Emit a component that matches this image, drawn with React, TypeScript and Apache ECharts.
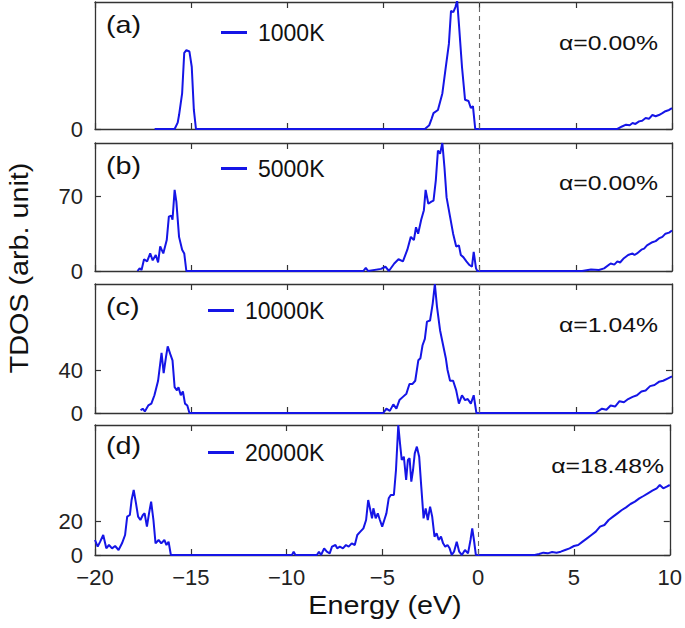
import React, { useEffect, useRef } from "react";
import * as echarts from "echarts";

const FONT = "'Liberation Sans', Arial, Helvetica, sans-serif";
const LINE_COLOR = "#1515e6";

const temperatures = ["1000K", "5000K", "10000K", "20000K"];
const panelLabels = ["(a)", "(b)", "(c)", "(d)"];
const alphaLabels = ["α=0.00%", "α=0.00%", "α=1.04%", "α=18.48%"];
const yMax = [100, 120, 120, 78];
const yTickValues = [[0], [0, 70], [0, 40], [0, 20]];

const tdos1000K: [number, number][] = [
  [-16.9, 0], [-15.86, 0], [-15.7, 5], [-15.63, 11], [-15.47, 28], [-15.36, 60], [-15.25, 62], [-15.09, 61],
  [-14.97, 49], [-14.86, 15], [-14.75, 0],
  [-2.85, 0], [-2.62, 3], [-2.5, 8], [-2.4, 12.5], [-2.17, 15], [-1.94, 28], [-1.76, 49], [-1.6, 67],
  [-1.49, 93], [-1.37, 92], [-1.26, 96], [-1.17, 101], [-1.08, 83], [-0.92, 49], [-0.76, 23], [-0.58, 22],
  [-0.46, 16.5], [-0.35, 18], [-0.23, 0],
  [7.16, 0], [7.4, 2], [7.61, 3.4], [7.8, 3], [7.95, 4.7], [8.1, 4], [8.29, 6], [8.45, 6.5], [8.63, 8.6],
  [8.8, 8], [8.98, 11], [9.15, 10], [9.32, 11], [9.5, 12.5], [9.66, 14], [9.85, 15], [10, 16.5],
];

const tdos5000K: [number, number][] = [
  [-17.79, 0], [-17.68, 2.5], [-17.58, 1], [-17.45, 11], [-17.29, 9], [-17.13, 16.5], [-17.0, 10], [-16.84, 15],
  [-16.72, 8], [-16.61, 23], [-16.45, 16.5], [-16.27, 29], [-16.16, 51], [-16.04, 52], [-15.97, 48],
  [-15.86, 76], [-15.77, 65], [-15.63, 32], [-15.47, 20], [-15.36, 16.5], [-15.25, 0],
  [-6.05, 0], [-5.92, 3], [-5.8, 0], [-5.13, 2], [-4.9, 4], [-4.72, 0], [-4.44, 7], [-4.22, 11], [-3.99, 9],
  [-3.76, 20], [-3.58, 32], [-3.42, 29], [-3.31, 41], [-3.2, 35], [-3.04, 48], [-2.9, 57], [-2.81, 76],
  [-2.67, 63], [-2.51, 65], [-2.4, 66], [-2.28, 85], [-2.17, 113], [-2.06, 110], [-1.94, 120], [-1.83, 97],
  [-1.72, 69], [-1.54, 51], [-1.38, 35], [-1.22, 23], [-1.08, 24], [-0.98, 15], [-0.85, 13], [-0.69, 9],
  [-0.53, 5.6], [-0.4, 4], [-0.31, 18], [-0.19, 2.5], [-0.12, 0],
  [5.33, 0], [5.79, 1.5], [6.2, 1], [6.47, 2.5], [6.81, 7], [7.0, 6], [7.16, 9], [7.3, 8], [7.5, 12],
  [7.72, 15], [7.95, 16.5], [8.05, 15], [8.18, 16.5], [8.41, 20], [8.55, 21], [8.7, 24], [8.98, 27],
  [9.15, 28], [9.32, 30.5], [9.5, 32], [9.66, 35], [9.85, 36], [10, 38],
];

const tdos10000K: [number, number][] = [
  [-17.63, 2.5], [-17.52, 4], [-17.41, 1.5], [-17.23, 7], [-17.07, 8.7], [-16.91, 16.5], [-16.72, 30],
  [-16.54, 56], [-16.43, 37], [-16.31, 52], [-16.22, 62], [-16.09, 55], [-15.97, 49], [-15.86, 24],
  [-15.74, 21], [-15.66, 24], [-15.54, 16.5], [-15.43, 20], [-15.32, 8.7], [-15.2, 7], [-15.09, 0],
  [-5.01, 0], [-4.85, 4], [-4.67, 2], [-4.49, 8], [-4.33, 4], [-4.17, 12], [-3.99, 15], [-3.81, 18],
  [-3.65, 27], [-3.49, 27], [-3.35, 30], [-3.19, 49], [-3.08, 51], [-2.97, 63], [-2.85, 69], [-2.74, 85],
  [-2.58, 86], [-2.44, 102], [-2.33, 120], [-2.22, 99], [-2.06, 77], [-1.9, 63], [-1.76, 51], [-1.67, 40],
  [-1.54, 30], [-1.38, 30], [-1.22, 21], [-1.08, 8.7], [-0.92, 16.5], [-0.76, 12], [-0.62, 13], [-0.46, 8.7],
  [-0.31, 16.5], [-0.17, 0],
  [6.02, 0], [6.36, 4], [6.59, 3], [6.81, 7], [7.04, 6], [7.27, 11], [7.5, 10], [7.72, 13], [7.95, 15],
  [8.18, 16.5], [8.41, 20], [8.63, 21], [8.86, 25], [9.09, 26], [9.32, 29], [9.54, 30], [9.77, 32], [10, 34],
];

const tdos20000K: [number, number][] = [
  [-20, 9], [-19.86, 5], [-19.73, 8], [-19.57, 12], [-19.41, 4], [-19.27, 6], [-19.11, 4], [-18.95, 5.4],
  [-18.77, 3], [-18.59, 7], [-18.43, 12], [-18.32, 23], [-18.18, 24], [-18.09, 33], [-17.98, 39],
  [-17.86, 31], [-17.75, 23], [-17.63, 21], [-17.5, 24], [-17.41, 25], [-17.29, 17], [-17.18, 25],
  [-17.07, 32], [-16.95, 21], [-16.84, 7], [-16.68, 9], [-16.54, 7], [-16.38, 9], [-16.27, 6], [-16.16, 8],
  [-16.04, 0],
  [-9.72, 0], [-9.63, 2], [-9.54, 0], [-8.42, 0], [-8.31, 2], [-8.2, 0], [-8.04, 4], [-7.9, 2], [-7.75, 1],
  [-7.63, 5], [-7.45, 6], [-7.36, 4], [-7.22, 5], [-7.06, 4], [-6.9, 6], [-6.76, 5], [-6.6, 7], [-6.44, 6],
  [-6.31, 12], [-6.15, 14], [-5.99, 16], [-5.85, 21], [-5.74, 33], [-5.63, 27], [-5.54, 22], [-5.47, 28],
  [-5.35, 22], [-5.24, 25], [-5.13, 21], [-5.01, 17], [-4.9, 21], [-4.79, 25], [-4.67, 34], [-4.56, 36],
  [-4.4, 36], [-4.29, 51], [-4.17, 78], [-4.08, 67], [-3.99, 57], [-3.88, 59], [-3.76, 45], [-3.67, 57],
  [-3.58, 58], [-3.49, 44], [-3.4, 51], [-3.31, 61], [-3.2, 65], [-3.08, 59], [-2.97, 41], [-2.85, 22],
  [-2.74, 28], [-2.63, 21], [-2.51, 29], [-2.4, 23], [-2.28, 11], [-2.17, 13], [-2.06, 9], [-1.94, 11],
  [-1.83, 7], [-1.72, 5], [-1.6, 6], [-1.49, 4], [-1.38, 0], [-1.26, 2], [-1.12, 8], [-0.99, 2],
  [-0.85, 0], [-0.69, 3], [-0.53, 1], [-0.4, 9], [-0.31, 16], [-0.22, 9], [-0.12, 0],
  [2.95, 0], [3.18, 0.6], [3.4, 1.4], [3.63, 1], [3.86, 1.8], [4.09, 1.4], [4.31, 2], [4.54, 3], [4.77, 4],
  [5.0, 5.4], [5.22, 6], [5.45, 8], [5.68, 10], [5.91, 12], [6.14, 14], [6.36, 17], [6.59, 18], [6.81, 21],
  [7.04, 23], [7.27, 25], [7.5, 27], [7.72, 28.6], [7.95, 30.6], [8.18, 32], [8.41, 34], [8.63, 35.4],
  [8.86, 37], [9.09, 38.6], [9.32, 40], [9.48, 42], [9.66, 40], [9.84, 41], [10, 42],
];

const seriesData = [tdos1000K, tdos5000K, tdos10000K, tdos20000K];

// layout (pixels)
const gridTops = [2, 143, 284, 425];
const gridHeights = [127, 128, 129, 130];
const GRID_LEFT = 95;
const GRID_WIDTH = 577;
const legendLeft = [221, 221, 208, 208];
const legendCenterY = [33, 169, 311, 453];
const labelCenterY = [25, 166, 307, 446];
const alphaCenterY = [43, 183, 325, 466];
const alphaRight = [658, 658, 658, 664];

export default function App() {
  const ref = useRef<HTMLDivElement>(null);

  useEffect(() => {
    if (!ref.current) return;
    const chart = echarts.init(ref.current, null, { renderer: "svg" });

    const axisLine = { show: true, onZero: false, lineStyle: { color: "#333", width: 1.3 } };
    const tickStyle = { color: "#333", width: 1.2 };
    const grids: any[] = [];
    const xAxes: any[] = [];
    const yAxes: any[] = [];
    const series: any[] = [];
    const legends: any[] = [];
    const graphics: any[] = [];

    for (let i = 0; i < 4; i++) {
      grids.push({ left: GRID_LEFT, top: gridTops[i], width: GRID_WIDTH, height: gridHeights[i], containLabel: false });
      const isLast = i === 3;
      xAxes.push({
        type: "value", gridIndex: i, min: -20, max: 10, interval: 5, position: "bottom",
        axisLine, splitLine: { show: false },
        axisTick: { show: true, inside: true, length: 6, lineStyle: tickStyle },
        axisLabel: {
          show: isLast, fontSize: 22, color: "#222", fontFamily: FONT, margin: 11,
          formatter: (v: number) => (v < 0 ? "\u2212" + Math.abs(v) : String(v)),
        },
      });
      xAxes.push({
        type: "value", gridIndex: i, min: -20, max: 10, interval: 5, position: "top",
        axisLine, splitLine: { show: false },
        axisTick: { show: true, inside: true, length: 6, lineStyle: tickStyle },
        axisLabel: { show: false },
      });
      yAxes.push({
        type: "value", gridIndex: i, min: 0, max: yMax[i], position: "left",
        axisLine, splitLine: { show: false },
        axisTick: { show: true, inside: true, length: 6, customValues: yTickValues[i], lineStyle: tickStyle },
        axisLabel: { show: true, fontSize: 22, color: "#222", fontFamily: FONT, margin: 12, customValues: yTickValues[i] },
      });
      yAxes.push({
        type: "value", gridIndex: i, min: 0, max: yMax[i], position: "right",
        axisLine, splitLine: { show: false },
        axisTick: { show: true, inside: true, length: 6, customValues: yTickValues[i], lineStyle: tickStyle },
        axisLabel: { show: false },
      });
      series.push({
        name: temperatures[i], type: "line", xAxisIndex: 2 * i, yAxisIndex: 2 * i,
        data: seriesData[i], showSymbol: false, symbol: "none", clip: true,
        lineStyle: { color: LINE_COLOR, width: 2 }, itemStyle: { color: LINE_COLOR },
        markLine: {
          silent: true, symbol: "none", label: { show: false },
          lineStyle: { type: [5, 4], color: "#666", width: 1.1 },
          data: [{ xAxis: 0 }],
        },
      });
      legends.push({
        data: [temperatures[i]], left: legendLeft[i] - 5, top: legendCenterY[i] - 17, icon: "rect",
        itemWidth: 26, itemHeight: 3, itemGap: 0,
        textStyle: { fontSize: 23, color: "#111", fontFamily: FONT, padding: [0, 0, 0, 6] },
        selectedMode: false,
      });
      graphics.push({
        type: "text", x: 106, y: labelCenterY[i], scaleX: 1.2,
        style: { text: panelLabels[i], fontSize: 24, fill: "#111", fontFamily: FONT, verticalAlign: "middle" },
      });
      graphics.push({
        type: "text", x: alphaRight[i], y: alphaCenterY[i], scaleX: 1.18,
        style: { text: alphaLabels[i], fontSize: 21, fill: "#111", fontFamily: FONT, align: "right", verticalAlign: "middle" },
      });
    }

    graphics.push({
      type: "text", x: 20, y: 268, rotation: Math.PI / 2, scaleX: 1.15,
      style: { text: "TDOS (arb. unit)", fontSize: 25, fill: "#111", fontFamily: FONT, align: "center", verticalAlign: "middle" },
    });
    graphics.push({
      type: "text", x: 385, y: 606, scaleX: 1.15,
      style: { text: "Energy (eV)", fontSize: 25, fill: "#111", fontFamily: FONT, align: "center", verticalAlign: "middle" },
    });

    chart.setOption({
      animation: false,
      backgroundColor: "#fff",
      grid: grids,
      xAxis: xAxes,
      yAxis: yAxes,
      series,
      legend: legends,
      graphic: graphics,
    });
    return () => chart.dispose();
  }, []);

  return <div ref={ref} style={{ position: "fixed", left: 0, top: 0, width: 685, height: 628 }} />;
}
